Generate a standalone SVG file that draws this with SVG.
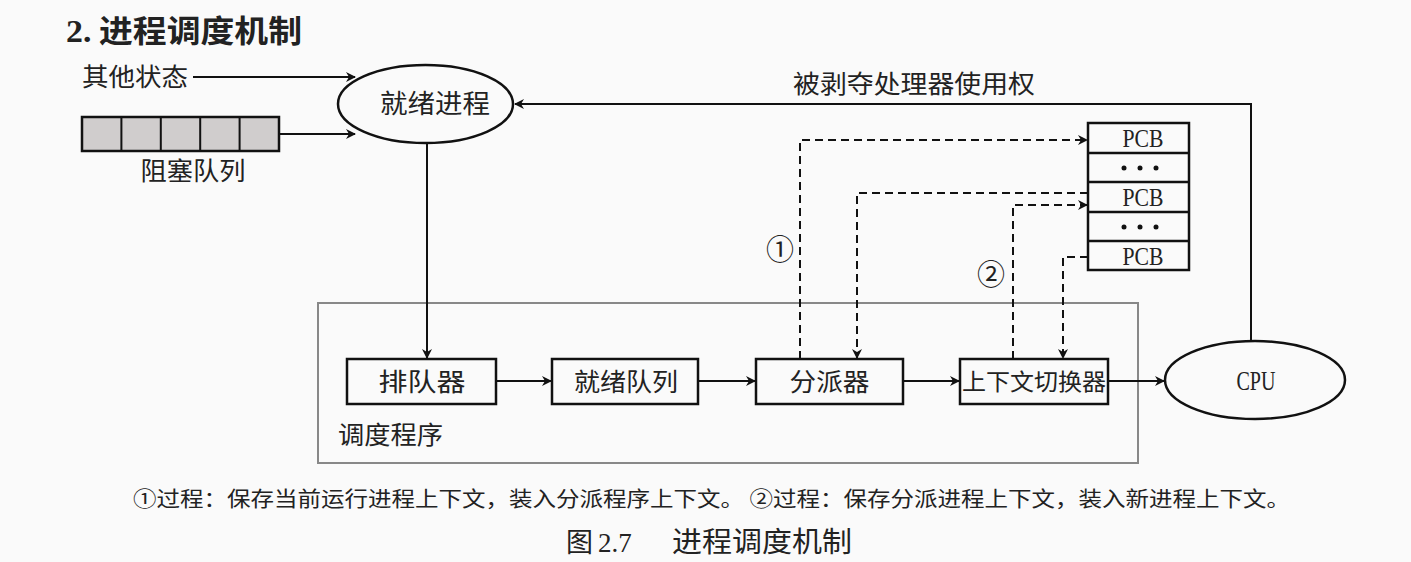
<svg xmlns="http://www.w3.org/2000/svg" width="1411" height="562" viewBox="0 0 1411 562">
<defs>
<marker id="ah" viewBox="0 0 10 10" refX="9" refY="5" markerWidth="10" markerHeight="10" markerUnits="userSpaceOnUse" orient="auto">
<path d="M0,0 L10,5 L0,10 L3,5 Z" fill="#111"/>
</marker>
<style>
.t{font-family:"Noto Sans CJK SC","Liberation Sans",sans-serif;fill:#222;}
.s{font-family:"Liberation Serif","Noto Sans CJK SC",serif;fill:#222;}
.box{fill:none;stroke:#111;stroke-width:2.5;}
.ln{fill:none;stroke:#111;stroke-width:2;}
.dl{fill:none;stroke:#111;stroke-width:2;stroke-dasharray:8,5;}
</style>
</defs>
<rect width="1411" height="562" fill="#fafafa"/>
<text x="66" y="42" font-size="31" font-weight="bold" textLength="236" lengthAdjust="spacingAndGlyphs" class="t"><tspan class="s" font-weight="bold">2.</tspan> 进程调度机制</text>

<g id="other-state"><text x="82" y="86" font-size="25" textLength="106" lengthAdjust="spacingAndGlyphs" class="t">其他状态</text></g>
<g id="blocked-queue">
<rect x="82" y="117" width="197" height="34" fill="#d0cdcd" stroke="#111" stroke-width="2.5"/>
<path d="M121.4,117V151M160.8,117V151M200.2,117V151M239.6,117V151" class="ln"/>
<text x="193" y="180" font-size="25" text-anchor="middle" textLength="105" lengthAdjust="spacingAndGlyphs" class="t">阻塞队列</text>
</g>
<g id="ready-process">
<ellipse cx="425.5" cy="104" rx="87.5" ry="39" class="box"/>
<text x="435" y="113" font-size="26" text-anchor="middle" textLength="110" lengthAdjust="spacingAndGlyphs" class="t">就绪进程</text>
</g>
<g id="scheduler">
<rect x="318" y="303" width="820" height="160" fill="none" stroke="#888" stroke-width="2"/>
<text x="338" y="444" font-size="25" textLength="105" lengthAdjust="spacingAndGlyphs" class="t">调度程序</text>
</g>
<g id="enqueuer"><rect x="347" y="359" width="149" height="45" class="box"/><text x="422" y="391" font-size="25" text-anchor="middle" textLength="87" lengthAdjust="spacingAndGlyphs" class="t">排队器</text></g>
<g id="ready-queue"><rect x="552" y="359" width="146" height="45" class="box"/><text x="626" y="391" font-size="25" text-anchor="middle" textLength="104" lengthAdjust="spacingAndGlyphs" class="t">就绪队列</text></g>
<g id="dispatcher"><rect x="756" y="359" width="147" height="45" class="box"/><text x="829.5" y="391" font-size="25" text-anchor="middle" textLength="80" lengthAdjust="spacingAndGlyphs" class="t">分派器</text></g>
<g id="context-switcher"><rect x="960" y="359" width="148" height="45" class="box"/><text x="1034" y="390" font-size="23" text-anchor="middle" textLength="144" lengthAdjust="spacingAndGlyphs" class="t">上下文切换器</text></g>
<g id="cpu"><ellipse cx="1255" cy="380" rx="90" ry="39" class="box"/><text x="1256" y="390" font-size="27" text-anchor="middle" textLength="39" lengthAdjust="spacingAndGlyphs" class="s">CPU</text></g>
<g id="pcb-table">
<rect x="1088" y="123" width="101" height="147" class="box"/>
<path d="M1088,153H1189M1088,182H1189M1088,212H1189M1088,241H1189" class="box"/>
<text x="1143" y="147" font-size="26" text-anchor="middle" textLength="41" lengthAdjust="spacingAndGlyphs" class="s">PCB</text>
<text x="1143" y="206" font-size="26" text-anchor="middle" textLength="41" lengthAdjust="spacingAndGlyphs" class="s">PCB</text>
<text x="1143" y="265" font-size="26" text-anchor="middle" textLength="41" lengthAdjust="spacingAndGlyphs" class="s">PCB</text>
<g fill="#111"><circle cx="1124" cy="168" r="2.5"/><circle cx="1140" cy="168" r="2.5"/><circle cx="1156" cy="168" r="2.5"/>
<circle cx="1124" cy="227" r="2.5"/><circle cx="1140" cy="227" r="2.5"/><circle cx="1156" cy="227" r="2.5"/></g>
</g>

<g id="connectors">
<path d="M193,77H355" class="ln" marker-end="url(#ah)"/>
<path d="M279,134H355" class="ln" marker-end="url(#ah)"/>
<path d="M427,143V358" class="ln" marker-end="url(#ah)"/>
<path d="M496,381H551" class="ln" marker-end="url(#ah)"/>
<path d="M698,381H755" class="ln" marker-end="url(#ah)"/>
<path d="M903,381H959" class="ln" marker-end="url(#ah)"/>
<path d="M1108,381H1164" class="ln" marker-end="url(#ah)"/>
<path d="M1251,341V104H515" class="ln" marker-end="url(#ah)"/>
<text x="793" y="93" font-size="25" textLength="242" lengthAdjust="spacingAndGlyphs" class="t">被剥夺处理器使用权</text>
<path d="M800,359V140H1087" class="dl" marker-end="url(#ah)"/>
<path d="M1088,193H857V358" class="dl" marker-end="url(#ah)"/>
<path d="M1013,359V205H1087" class="dl" marker-end="url(#ah)"/>
<path d="M1088,257H1063V358" class="dl" marker-end="url(#ah)"/>
<text x="780" y="260" font-size="28" text-anchor="middle" class="t">①</text>
<text x="991" y="285" font-size="28" text-anchor="middle" class="t">②</text>
</g>

<text x="133" y="506" font-size="21" textLength="1157" lengthAdjust="spacingAndGlyphs" class="t">①过程：保存当前运行进程上下文，装入分派程序上下文。 ②过程：保存分派进程上下文，装入新进程上下文。</text>
<text x="566" y="552" font-size="27" class="t">图</text>
<text x="598" y="552" font-size="27" class="s">2.7</text>
<text x="672" y="552" font-size="28" textLength="180" lengthAdjust="spacingAndGlyphs" class="t">进程调度机制</text>
</svg>
